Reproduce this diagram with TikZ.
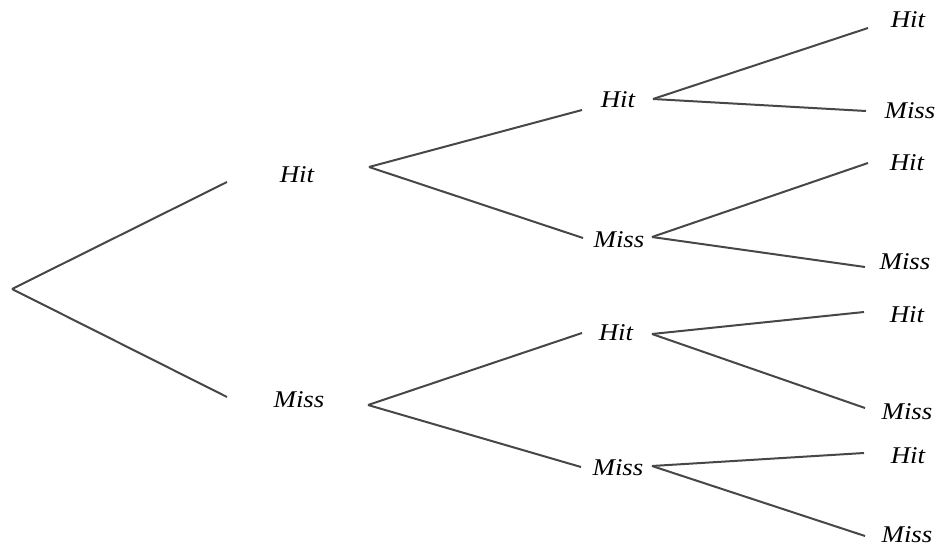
\documentclass[tikz,border=0pt]{standalone}
\usepackage{fontspec}
\newfontfamily\lblfont[UprightFont=*-Italic, FakeStretch=1.12]{Liberation Serif}
\begin{document}
\begin{tikzpicture}[x=1pt,y=-1pt,
  branch/.style={draw=black!72, line width=2pt},
  lbl/.style={font=\lblfont\fontsize{24}{24}\selectfont, inner sep=0pt, text=black}]
\useasboundingbox (0,0) rectangle (940,546);
% level 0
\coordinate (r) at (12,289);
\coordinate (a1e) at (227,182);
\coordinate (a2e) at (227,397);
\node[lbl] (h) at (297,175) {Hit};
\node[lbl] (m) at (299,400) {Miss};
\draw[branch] (r) -- (a1e);
\draw[branch] (r) -- (a2e);
% level 1
\coordinate (hs) at (369,167);
\coordinate (hhe) at (582,110);
\coordinate (hme) at (583,238);
\coordinate (ms) at (368,405);
\coordinate (mhe) at (582,333);
\coordinate (mme) at (581,467);
\draw[branch] (hs) -- (hhe);
\draw[branch] (hs) -- (hme);
\draw[branch] (ms) -- (mhe);
\draw[branch] (ms) -- (mme);
\node[lbl] (hh) at (618,100) {Hit};
\node[lbl] (hm) at (619,240) {Miss};
\node[lbl] (mh) at (616,333) {Hit};
\node[lbl] (mm) at (618,468) {Miss};
% level 2
\coordinate (hhs) at (653,99);
\coordinate (hhhe) at (868,28);
\coordinate (hhme) at (866,111);
\coordinate (hms) at (652,237);
\coordinate (hmhe) at (868,163);
\coordinate (hmme) at (865,267);
\coordinate (mhs) at (652,334);
\coordinate (mhhe) at (864,312);
\coordinate (mhme) at (865,408);
\coordinate (mms) at (652,466);
\coordinate (mmhe) at (864,453);
\coordinate (mmme) at (865,536);
\draw[branch] (hhs) -- (hhhe);
\draw[branch] (hhs) -- (hhme);
\draw[branch] (hms) -- (hmhe);
\draw[branch] (hms) -- (hmme);
\draw[branch] (mhs) -- (mhhe);
\draw[branch] (mhs) -- (mhme);
\draw[branch] (mms) -- (mmhe);
\draw[branch] (mms) -- (mmme);
\node[lbl] (hhh) at (908,20) {Hit};
\node[lbl] (hhm) at (910,111) {Miss};
\node[lbl] (hmh) at (907,163) {Hit};
\node[lbl] (hmm) at (905,262) {Miss};
\node[lbl] (mhh) at (907,315) {Hit};
\node[lbl] (mhm) at (907,412) {Miss};
\node[lbl] (mmh) at (908,456) {Hit};
\node[lbl] (mmm) at (907,535) {Miss};
\end{tikzpicture}
\end{document}
